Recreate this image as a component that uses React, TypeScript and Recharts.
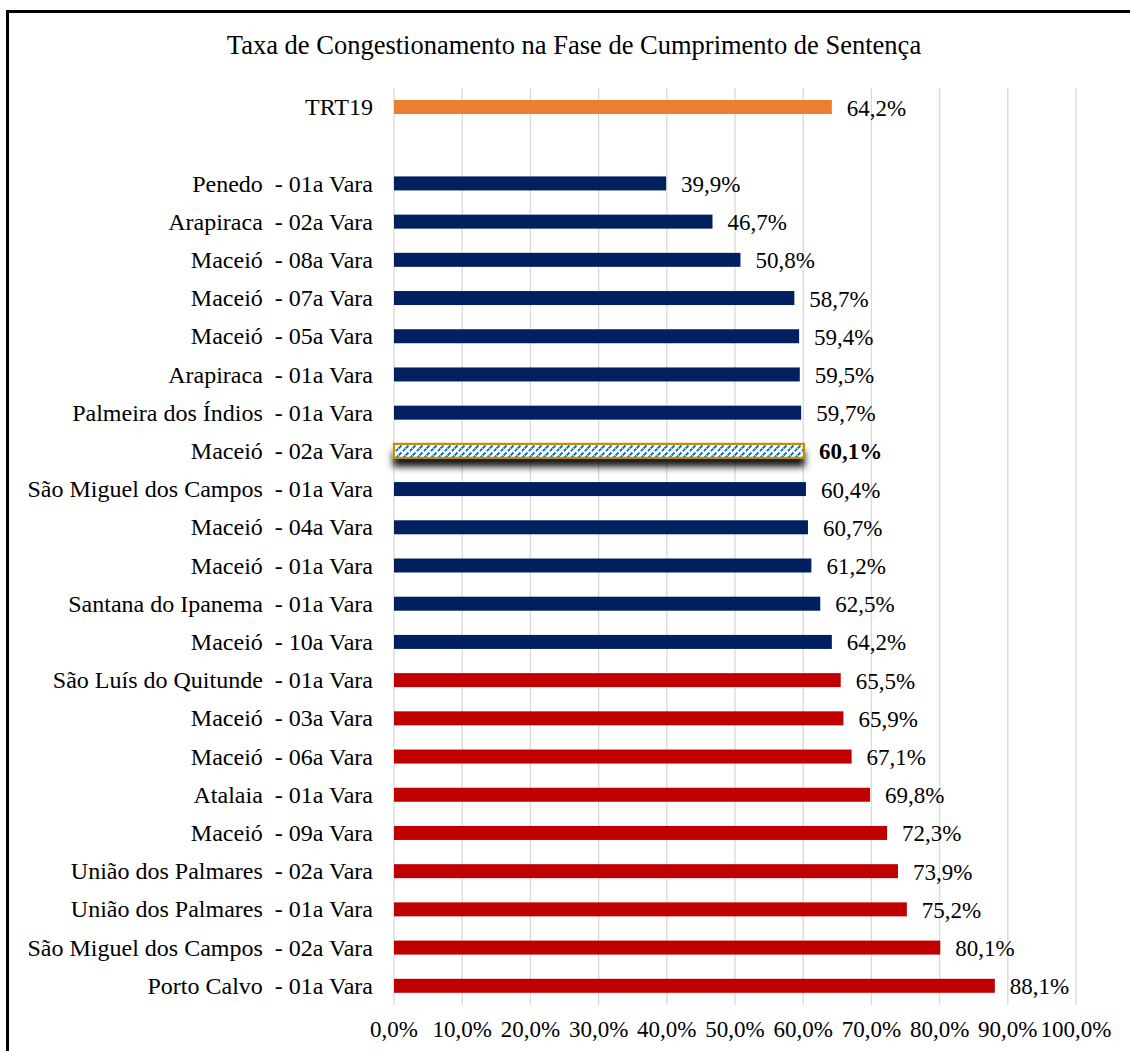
import React from 'react';
import { BarChart, Bar, XAxis, YAxis, CartesianGrid } from 'recharts';

// ─── Data ────────────────────────────────────────────────────────────────────
const categories = [
  'TRT19',
  '',
  'Penedo  - 01a Vara',
  'Arapiraca  - 02a Vara',
  'Maceió  - 08a Vara',
  'Maceió  - 07a Vara',
  'Maceió  - 05a Vara',
  'Arapiraca  - 01a Vara',
  'Palmeira dos Índios  - 01a Vara',
  'Maceió  - 02a Vara',
  'São Miguel dos Campos  - 01a Vara',
  'Maceió  - 04a Vara',
  'Maceió  - 01a Vara',
  'Santana do Ipanema  - 01a Vara',
  'Maceió  - 10a Vara',
  'São Luís do Quitunde  - 01a Vara',
  'Maceió  - 03a Vara',
  'Maceió  - 06a Vara',
  'Atalaia  - 01a Vara',
  'Maceió  - 09a Vara',
  'União dos Palmares  - 02a Vara',
  'União dos Palmares  - 01a Vara',
  'São Miguel dos Campos  - 02a Vara',
  'Porto Calvo  - 01a Vara',
];

const taxa: (number | null)[] = [
  64.2, null,
  39.9, 46.7, 50.8, 58.7, 59.4, 59.5, 59.7, 60.1, 60.4, 60.7, 61.2, 62.5, 64.2,
  65.5, 65.9, 67.1, 69.8, 72.3, 73.9, 75.2, 80.1, 88.1,
];

// tribunal | abaixo (<= TRT19) | destaque (the highlighted vara) | acima
const grupo = [
  'tribunal', 'vazio',
  'abaixo', 'abaixo', 'abaixo', 'abaixo', 'abaixo', 'abaixo', 'abaixo', 'destaque',
  'abaixo', 'abaixo', 'abaixo', 'abaixo', 'abaixo',
  'acima', 'acima', 'acima', 'acima', 'acima', 'acima', 'acima', 'acima', 'acima',
];

const xTicks = [0, 10, 20, 30, 40, 50, 60, 70, 80, 90, 100];

const COLORS: Record<string, string> = {
  tribunal: '#ED7D31',
  abaixo: '#002060',
  acima: '#C00000',
};

const data = categories.map((nome, i) => ({ nome, taxa: taxa[i], grupo: grupo[i] }));

const FONT = '"Liberation Serif", "Times New Roman", serif';
const fmt = (v: number) => `${v.toFixed(1).replace('.', ',')}%`;

// ─── Custom ticks / bar shape ────────────────────────────────────────────────
const CategoryTick = (props: any) => {
  const { x, y, payload } = props;
  return (
    <text
      x={x} y={y} textAnchor="end" dominantBaseline="central" fill="#000"
      style={{ fontFamily: FONT, fontSize: 24, whiteSpace: 'pre' }}
    >
      {payload.value}
    </text>
  );
};

const PercentTick = (props: any) => {
  const { x, y, payload } = props;
  return (
    <text
      x={x} y={y} textAnchor="middle" dy="0.71em" fill="#000"
      style={{ fontFamily: FONT, fontSize: 23 }}
    >
      {fmt(payload.value)}
    </text>
  );
};

const BarWithLabel = (props: any) => {
  const { x, y, width, height, payload } = props;
  if (payload == null || payload.taxa == null) return null;
  const destaque = payload.grupo === 'destaque';
  const label = (
    <text
      x={x + width + 15} y={y + height / 2 + 1} dominantBaseline="central" fill="#000"
      style={{ fontFamily: FONT, fontSize: 23, fontWeight: destaque ? 700 : 400 }}
    >
      {fmt(payload.taxa)}
    </text>
  );
  if (destaque) {
    return (
      <g>
        <rect
          x={x} y={y} width={width} height={height}
          fill="url(#hatchBlue)" stroke="#BF9000" strokeWidth={2.2} filter="url(#barShadow)"
        />
        {label}
      </g>
    );
  }
  return (
    <g>
      <rect x={x} y={y} width={width} height={height} fill={COLORS[payload.grupo]} />
      {label}
    </g>
  );
};

// ─── Chart ───────────────────────────────────────────────────────────────────
export default function App() {
  return (
    <div style={{ position: 'absolute', left: 0, top: 0, width: 1130, height: 1051, overflow: 'hidden', background: '#fff' }}>
      {/* frame, cut off on the right and bottom */}
      <div style={{ position: 'absolute', left: 6, top: 10, width: 1200, height: 1200, border: '3px solid #000', boxSizing: 'border-box' }} />

      <div style={{
        position: 'absolute', left: 0, width: 1148, top: 29, textAlign: 'center',
        fontFamily: FONT, fontSize: 26.5, color: '#000', lineHeight: '32px',
      }}>
        Taxa de Congestionamento na Fase de Cumprimento de Sentença
      </div>

      <div style={{ position: 'absolute', left: 0, top: 0 }}>
        <BarChart
          width={1130} height={1051} data={data} layout="vertical"
          margin={{ top: 88, right: 54, left: 10, bottom: 16 }}
          barSize={14}
        >
          <defs>
            <pattern id="hatchBlue" patternUnits="userSpaceOnUse" width="7" height="7">
              <rect width="7" height="7" fill="#fff" />
              <path d="M0,7 L7,0 M-2,2 L2,-2 M5,9 L9,5" stroke="#0070C0" strokeWidth="1.9" strokeDasharray="3.5 2" />
            </pattern>
            <filter id="barShadow" x="-5%" y="-50%" width="110%" height="300%">
              <feDropShadow dx="0" dy="8" stdDeviation="3.5" floodColor="#000" floodOpacity="0.9" />
            </filter>
          </defs>
          <CartesianGrid vertical horizontal={false} stroke="#D9D9D9" strokeWidth={1.3} />
          <XAxis
            type="number" domain={[0, 100]} ticks={xTicks}
            axisLine={false} tickLine={false} tickSize={0} tickMargin={16} height={30}
            tick={<PercentTick />} interval={0}
          />
          <YAxis
            type="category" dataKey="nome" width={384}
            axisLine={false} tickLine={false} tickSize={0} tickMargin={21}
            tick={<CategoryTick />} interval={0}
          />
          <Bar dataKey="taxa" isAnimationActive={false} shape={<BarWithLabel />} />
        </BarChart>
      </div>
    </div>
  );
}
